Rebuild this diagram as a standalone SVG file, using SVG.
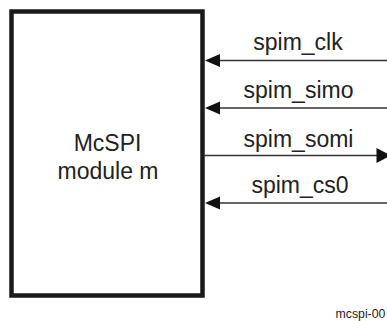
<svg xmlns="http://www.w3.org/2000/svg" width="387" height="321" viewBox="0 0 387 321">
<style>
.t{font-family:"Liberation Sans",Arial,sans-serif;font-size:23px;fill:#222;text-anchor:middle}
.w{stroke:#333;stroke-width:1.4;fill:none}
.h{fill:#111}
</style>
<rect width="387" height="321" fill="#fff"/>
<g id="mcspi">
<rect x="11.5" y="11.5" width="191" height="284" fill="#fff" stroke="#1a1a1a" stroke-width="4.5"/>
<text class="t" x="107.5" y="151">McSPI</text>
<text class="t" x="108" y="178.5">module m</text>
</g>
<g id="connectors">
<line class="w" x1="218" y1="60.5" x2="387" y2="60.5"/>
<polygon class="h" points="205,60.5 220,54 220,67"/>
<line class="w" x1="218" y1="108" x2="387" y2="108"/>
<polygon class="h" points="205,108 220,101.5 220,114.5"/>
<line class="w" x1="204" y1="155.5" x2="378" y2="155.5"/>
<polygon class="h" points="391,155.5 376.5,148 376.5,163"/>
<line class="w" x1="218" y1="203" x2="387" y2="203"/>
<polygon class="h" points="205,203 220,196.5 220,209.5"/>
</g>
<g id="labels">
<text class="t" x="298" y="50">spim_clk</text>
<text class="t" x="298.5" y="98">spim_simo</text>
<text class="t" x="298.5" y="146.5">spim_somi</text>
<text class="t" x="300" y="193">spim_cs0</text>
</g>
<text x="335.5" y="318" font-family="Liberation Sans,Arial,sans-serif" font-size="12.3" fill="#222">mcspi-00</text>
</svg>
